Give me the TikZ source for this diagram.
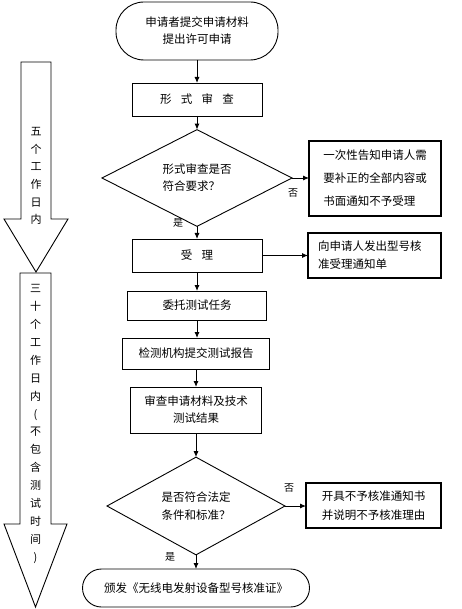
\documentclass[tikz,border=0pt]{standalone}
\usepackage{fontspec}
\setmainfont{Noto Sans CJK SC}
\usetikzlibrary{shapes.geometric,arrows.meta}
\begin{document}
\begin{tikzpicture}[x=1pt,y=-1pt,
  every node/.style={inner sep=0pt,outer sep=0pt},
  txt/.style={font=\fontsize{11.5}{17}\selectfont},
  proc/.style={draw,line width=0.9pt,minimum width=#1,txt,align=center},
  term/.style={draw,line width=0.9pt,rounded corners=#1,txt,align=center},
  side/.style={draw,line width=1.3pt,txt,align=left},
  dec/.style={draw,diamond,line width=0.9pt,txt,align=left},
  lab/.style={font=\fontsize{10}{12}\selectfont},
  flow/.style={line width=0.9pt,-{Latex[length=6pt,width=5pt]}},
  timebar/.style={draw,line width=0.9pt},
  vtext/.style={font=\fontsize{11}{17.9}\selectfont,align=center}]
\useasboundingbox (0,0) rectangle (462,609);

% time arrows
\draw[timebar] (21,62) -- (51,62) -- (51,219) -- (68,219) -- (36,272) -- (4,219) -- (21,219) -- cycle;
\node[vtext,font=\fontsize{11}{17.6}\selectfont] (t1) at (36,176) {五\\个\\工\\作\\日\\内};
\draw[timebar] (20,273) -- (51,273) -- (51,524) -- (67,524) -- (35.5,607) -- (4,524) -- (20,524) -- cycle;
\node[vtext] (t2) at (35.5,424) {三\\十\\个\\工\\作\\日\\内\\(\\不\\包\\含\\测\\试\\时\\间\\)};

% flow nodes
\node[term=28pt,minimum width=162pt,minimum height=58pt] (start) at (197,31) {申请者提交申请材料\\提出许可申请};
\node[proc=130pt,minimum height=33pt] (xs) at (197,99.5) {形\hspace{0.8em}式\hspace{0.8em}审\hspace{0.8em}查};
\node[dec,minimum width=190pt,minimum height=81pt] (d1) at (197,178) {形式审查是否\\符合要求？};
\node[side,minimum width=132pt,minimum height=75pt,font=\fontsize{11.5}{23}\selectfont] (r1) at (375,178.5) {一次性告知申请人需\\要补正的全部内容或\\书面通知不予受理};
\node[proc=130pt,minimum height=33pt] (sl) at (197,255.5) {受\hspace{0.8em}理};
\node[side,minimum width=133pt,minimum height=45pt,text width=113pt,font=\fontsize{11.5}{18}\selectfont] (r2) at (374.5,255.5) {向申请人发出型号核\\准受理通知单};
\node[proc=139pt,minimum height=29pt] (wt) at (197,305.5) {委托测试任务};
\node[proc=147pt,minimum height=31pt] (jc) at (196,353.5) {检测机构提交测试报告};
\node[proc=131pt,minimum height=46pt] (sc) at (196,410) {审查申请材料及技术\\测试结果};
\node[dec,minimum width=178pt,minimum height=94pt,font=\fontsize{11.5}{18}\selectfont] (d2) at (196,506) {是否符合法定\\条件和标准？};
\node[side,minimum width=135pt,minimum height=45pt,font=\fontsize{11.5}{19}\selectfont] (r3) at (373.5,505.5) {开具不予核准通知书\\并说明不予核准理由};
\node[term=19pt,minimum width=227pt,minimum height=38pt] (end) at (196,588) {颁发《无线电发射设备型号核准证》};

% connectors
\draw[flow] (start) -- (xs);
\draw[flow] (xs) -- (d1);
\draw[flow] (d1) -- (sl);
\draw[flow] (d1.east) -- (r1.west |- d1.east);
\draw[flow] (sl.east) -- (r2.west |- sl.east);
\draw[flow] (sl.south) -- (sl.south -| wt.north) -- (wt.north);
\draw[flow] (wt) -- (wt.south |- jc.north);
\draw[flow] (jc) -- (sc);
\draw[flow] (sc) -- (d2);
\draw[flow] (d2.east) -- (r3.west |- d2.east);
\draw[flow] (d2) -- (end);

% labels
\node[lab] (n1) at (293,193) {否};
\node[lab] (y1) at (178,223) {是};
\node[lab] (n2) at (289,488) {否};
\node[lab] (y2) at (170,557) {是};
\end{tikzpicture}
\end{document}
